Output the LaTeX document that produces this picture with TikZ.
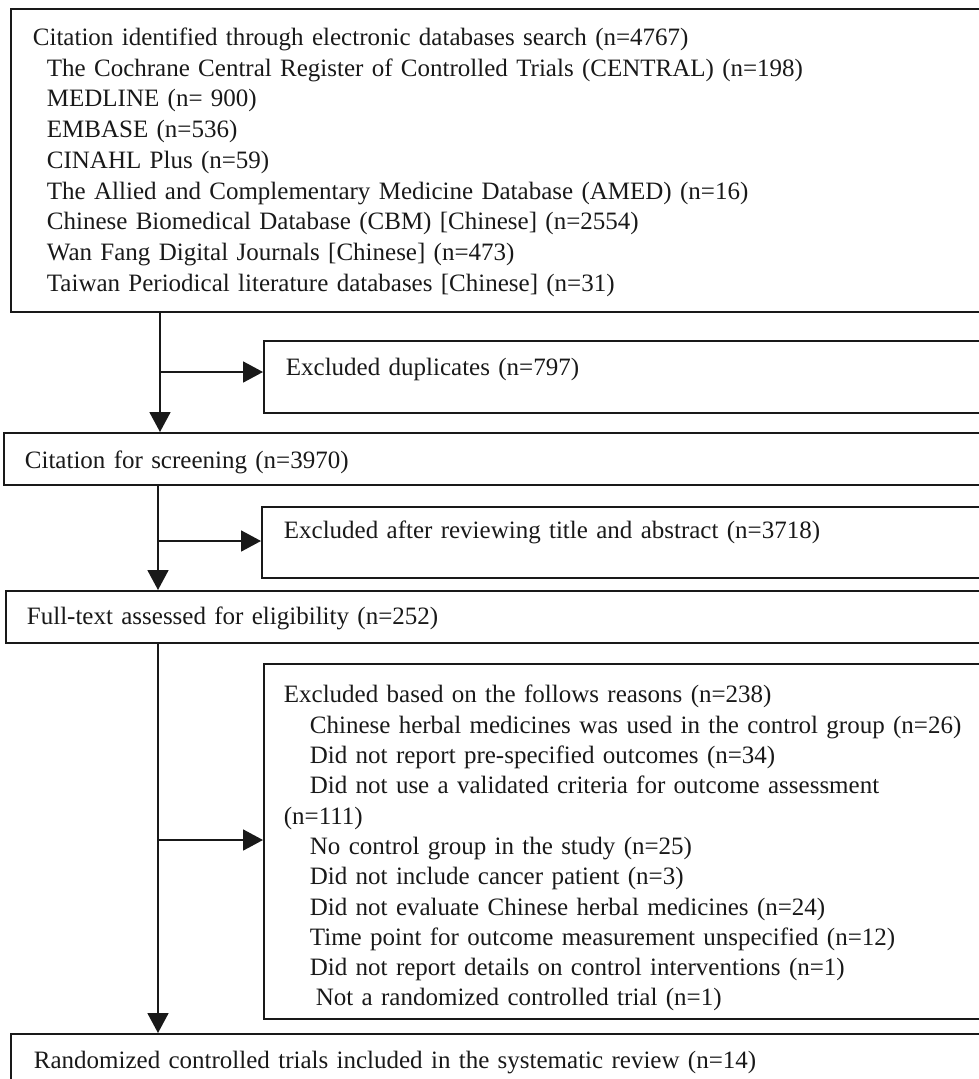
\documentclass[tikz,border=0pt]{standalone}
\usepackage{fontspec}
\setmainfont{Liberation Serif}
\usetikzlibrary{arrows.meta}
\tikzset{
  box/.style={draw=black!90, line width=1.8pt, anchor=north west, inner ysep=0pt,
    font=\fontsize{25}{30.5}\selectfont, text=black!90},
  multibox/.style={box, align=left, text width=#1},
  linebox/.style={box, text width=#1, align=left},
  arr/.style={draw=black!90, line width=1.8pt, -{Triangle[width=21pt,length=20pt]}}
}
\begin{document}
\begin{tikzpicture}[x=1pt,y=-1pt]
\useasboundingbox (0,0) rectangle (979,1079);
\clip (0,0) rectangle (979,1079);

\node[multibox=940pt, inner xsep=22pt, minimum height=303pt, text height=21.5pt,
      font=\fontsize{25}{30.75}\selectfont] (top) at (10,8) {%
Citation identified through electronic databases search (n=4767)\\
\hspace*{14pt}The Cochrane Central Register of Controlled Trials (CENTRAL) (n=198)\\
\hspace*{14pt}MEDLINE (n= 900)\\
\hspace*{14pt}EMBASE (n=536)\\
\hspace*{14pt}CINAHL Plus (n=59)\\
\hspace*{14pt}The Allied and Complementary Medicine Database (AMED) (n=16)\\
\hspace*{14pt}Chinese Biomedical Database (CBM) [Chinese] (n=2554)\\
\hspace*{14pt}Wan Fang Digital Journals [Chinese] (n=473)\\
\hspace*{14pt}Taiwan Periodical literature databases [Chinese] (n=31)};

\node[linebox=720pt, inner xsep=22pt, minimum height=72pt,
      text height=18pt, text depth=21pt] (dup) at (263,340) {Excluded duplicates (n=797)};

\node[linebox=960pt, inner xsep=21pt, minimum height=52pt,
      text height=22pt, text depth=2pt] (scr) at (3,432) {Citation for screening (n=3970)};

\node[linebox=720pt, inner xsep=22pt, minimum height=71pt,
      text height=18pt, text depth=25pt] (rev) at (261,506) {Excluded after reviewing title and abstract (n=3718)};

\node[linebox=960pt, inner xsep=21pt, minimum height=52pt,
      text height=18pt, text depth=2pt] (full) at (5,590) {Full-text assessed for eligibility (n=252)};

\node[multibox=740pt, inner xsep=20pt, minimum height=355pt, text height=31.5pt,
      font=\fontsize{25}{30.3}\selectfont] (exc) at (263,663) {%
Excluded based on the follows reasons (n=238)\\
\hspace*{26pt}Chinese herbal medicines was used in the control group (n=26)\\
\hspace*{26pt}Did not report pre-specified outcomes (n=34)\\
\hspace*{26pt}Did not use a validated criteria for outcome assessment\\
(n=111)\\
\hspace*{26pt}No control group in the study (n=25)\\
\hspace*{26pt}Did not include cancer patient (n=3)\\
\hspace*{26pt}Did not evaluate Chinese herbal medicines (n=24)\\
\hspace*{26pt}Time point for outcome measurement unspecified (n=12)\\
\hspace*{26pt}Did not report details on control interventions (n=1)\\
\hspace*{32pt}Not a randomized controlled trial (n=1)};

\node[linebox=960pt, inner xsep=23pt, minimum height=80pt,
      text height=18pt, text depth=28pt] (rct) at (10,1033) {Randomized controlled trials included in the systematic review (n=14)};

\coordinate (xa) at (160,0);
\coordinate (xb) at (158,0);
\coordinate (h1) at (160,372);
\coordinate (h2) at (158,541);
\coordinate (h3) at (158,840);

\draw[arr] (top.south -| xa) -- (scr.north -| xa);
\draw[arr] (h1) -- (h1 -| dup.west);
\draw[arr] (scr.south -| xb) -- (full.north -| xb);
\draw[arr] (h2) -- (h2 -| rev.west);
\draw[arr] (full.south -| xb) -- (rct.north -| xb);
\draw[arr] (h3) -- (h3 -| exc.west);
\end{tikzpicture}
\end{document}
